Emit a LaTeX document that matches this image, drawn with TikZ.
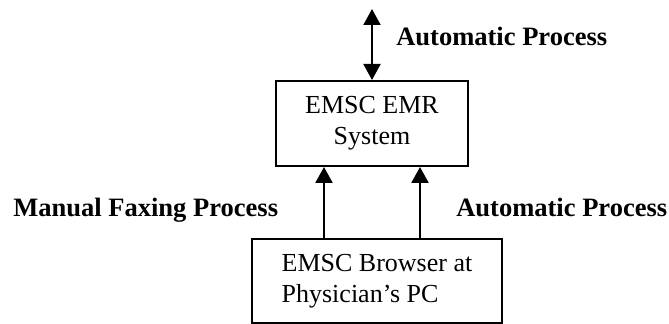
\documentclass[tikz,border=0pt]{standalone}
\usepackage{fontspec}
\setmainfont{Liberation Serif}
\usetikzlibrary{arrows.meta}

\begin{document}
\begin{tikzpicture}[x=0.75pt, y=-0.75pt,
  >={Triangle[width=12.75pt,length=12pt]},
  sysbox/.style={draw, line width=1.5pt, font=\fontsize{19.5pt}{23.25pt}\selectfont},
  flow/.style={line width=1.5pt},
  proc/.style={font=\fontsize{19.9pt}{23.5pt}\selectfont\bfseries, anchor=base west, inner sep=0pt}]
\useasboundingbox (0,0) rectangle (669,324);
\node[sysbox, minimum width=144pt, minimum height=63.75pt, align=center] (emr) at (372,123.5) {EMSC EMR\\System};
\node[sysbox, inner xsep=22.5pt, minimum height=63pt, align=left] (browser) at (377,281) {EMSC Browser at\\Physician's PC};
\coordinate (ext) at (372,9);
\draw[flow, <->] (ext) -- (emr.north);
\draw[flow, ->] ([xshift=-36pt]emr.south |- browser.north) -- ([xshift=-36pt]emr.south);
\draw[flow, ->] ([xshift=36pt]emr.south |- browser.north) -- ([xshift=36pt]emr.south);
\node[proc] (autotop) at (396,46) {Automatic Process};
\node[proc] (manual) at (13,217) {Manual Faxing Process};
\node[proc] (autolow) at (456,217) {Automatic Process};
\end{tikzpicture}
\end{document}
